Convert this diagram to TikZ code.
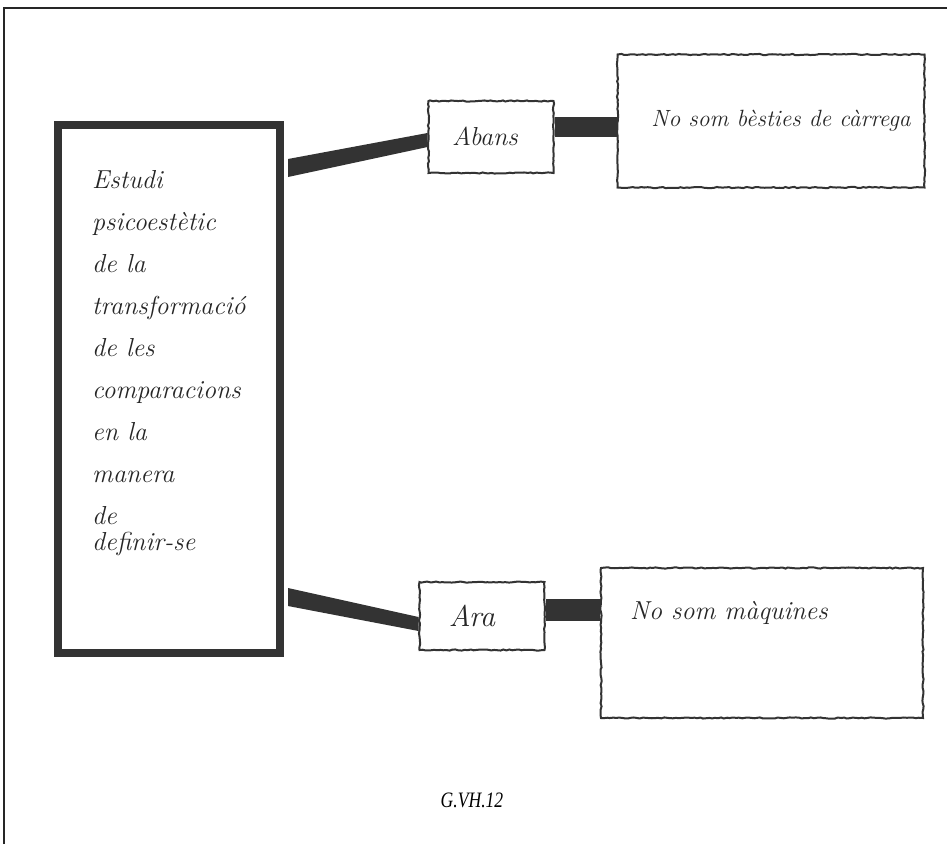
\documentclass[tikz,border=0pt]{standalone}
\usepackage{fontspec}
\newfontfamily\capfont{Liberation Serif}
\usetikzlibrary{calc,decorations.pathmorphing}
\begin{document}
\begin{tikzpicture}[x=1pt,y=-1pt,
  heavybox/.style={draw=black!80, line width=8pt, inner sep=0pt},
  wavybox/.style={draw=black!80, line width=2pt, inner sep=0pt,
     decorate, decoration={random steps,segment length=3pt,amplitude=0.6pt}},
  hand/.style={text=black!85, inner sep=0pt}]
\useasboundingbox (0,0) rectangle (947,844);
% frame
\draw[line width=1.5pt, black!85] (4,844) -- (4,8) -- (947,8);

% boxes
\node[heavybox, minimum width=222pt, minimum height=528pt] (mainbox) at (169,389) {};
\node[wavybox, minimum width=125pt, minimum height=72pt] (abans) at (491,137) {};
\node[wavybox, minimum width=307pt, minimum height=133pt] (upper) at (771,121) {};
\node[wavybox, minimum width=125pt, minimum height=68pt] (ara) at (482,616) {};
\node[wavybox, minimum width=322pt, minimum height=150pt] (lower) at (762,643) {};

% connectors
\coordinate (m1) at ($(mainbox.north east)+(4,47)$);
\coordinate (a1) at ($(abans.west)+(0,3)$);
\fill[black!80] ($(m1)+(0,-9)$) -- ($(a1)+(0,-7)$) -- ($(a1)+(0,7)$) -- ($(m1)+(0,9)$) -- cycle;
\coordinate (a2) at ($(abans.east)+(0,-10)$);
\draw[black!80, line width=20pt] (a2) -- (a2 -| upper.west);

\coordinate (m2) at ($(mainbox.south east)+(4,-60)$);
\coordinate (r1) at ($(ara.west)+(0,8)$);
\fill[black!80] ($(m2)+(0,-9)$) -- ($(r1)+(0,-7)$) -- ($(r1)+(0,7)$) -- ($(m2)+(0,9)$) -- cycle;
\coordinate (r2) at ($(ara.east)+(0,-6)$);
\draw[black!80, line width=22pt] (r2) -- (r2 -| lower.west);

% texts
\node[hand, anchor=north west, align=left,
      font=\itshape\fontsize{26}{42}\selectfont] (maintext) at (92,170)
  {Estudi\\ psicoestètic\\ de la\\ transformació\\ de les\\ comparacions\\ en la\\ manera\\ de\\[-16pt] definir-se};
\node[hand, font=\itshape\fontsize{26}{30}\selectfont] (abanstext) at (485,136) {Abans};
\node[hand, font=\itshape\fontsize{30}{34}\selectfont] (aratext) at (472,616) {Ara};
\node[hand, font=\itshape\fontsize{23.5}{28}\selectfont] (uppertext) at (781,121) {No som bèsties de càrrega};
\node[hand, font=\itshape\fontsize{26}{30}\selectfont] (lowertext) at (729,613) {No som màquines};
\node[font=\capfont\itshape\fontsize{22}{26}\selectfont, xscale=0.8] (caption) at (472,800) {G.VH.12};
\end{tikzpicture}
\end{document}
